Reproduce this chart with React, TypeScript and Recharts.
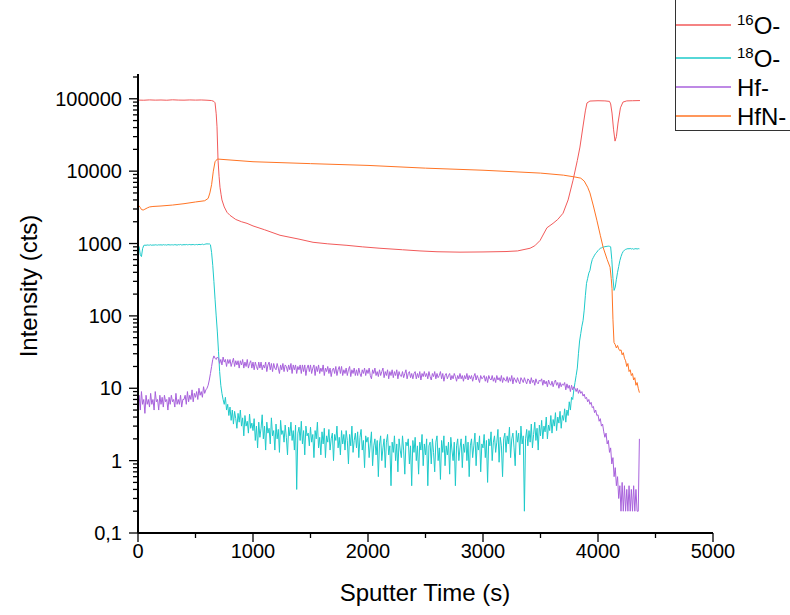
import { LineChart, Line, XAxis, YAxis, Label } from 'recharts';

// sputter times for the smooth traces (s)
const times16O = [0, 50, 100, 150, 200, 250, 300, 350, 400, 450, 500, 550, 600, 640, 660, 670, 680, 687, 696, 705, 713, 722, 730, 750, 774, 800, 850, 900, 948, 1000, 1100, 1235, 1400, 1522, 1650, 1817, 1950, 2104, 2300, 2452, 2600, 2800, 3000, 3200, 3300, 3409, 3450, 3496, 3556, 3609, 3650, 3696, 3740, 3783, 3820, 3843, 3870, 3890, 3904, 3930, 4000, 4060, 4100, 4110, 4122, 4135, 4148, 4160, 4174, 4195, 4217, 4250, 4300, 4365];
const values16O = [96000, 95500, 96500, 95800, 96200, 95500, 96800, 96000, 95700, 96400, 95900, 96300, 95500, 94500, 92000, 88000, 62000, 41000, 14200, 8500, 6000, 4800, 4000, 3200, 2700, 2450, 2150, 2000, 1900, 1750, 1550, 1300, 1150, 1040, 990, 944, 900, 860, 820, 790, 770, 760, 765, 775, 790, 860, 930, 1100, 1650, 1900, 2150, 2620, 4000, 7500, 14000, 21500, 42000, 68000, 87500, 93000, 94000, 93500, 92000, 85000, 63500, 38000, 26000, 30000, 46200, 75000, 90000, 93500, 94000, 94500];

const timesHfN = [0, 10, 20, 30, 45, 60, 80, 100, 130, 200, 300, 400, 500, 580, 610, 625, 640, 655, 670, 690, 1000, 1500, 2000, 2500, 3000, 3500, 3700, 3800, 3850, 3880, 3910, 3930, 3960, 3990, 4020, 4045, 4080, 4105, 4115, 4122, 4130, 4139, 4150, 4160, 4170, 4180, 4190, 4200, 4210, 4220, 4230, 4240, 4250, 4260, 4270, 4280, 4290, 4300, 4310, 4320, 4330, 4340, 4350, 4360];
const valuesHfN = [3200, 3300, 3150, 2950, 2900, 2980, 3100, 3200, 3250, 3300, 3400, 3550, 3750, 3900, 4200, 5000, 6500, 10000, 13500, 14700, 13500, 12700, 12000, 11000, 10300, 9400, 8800, 8300, 8000, 7300, 6000, 5000, 3300, 2100, 1300, 880, 600, 470, 330, 240, 90, 43, 40, 36, 39, 35, 33, 34, 29, 31, 26, 24, 20, 22, 17, 18, 15, 16, 13, 14, 11, 12, 10, 8.7];

// noisy traces, one reading every 10 s from 0 s
const sampleStep = 10;
const values18O = [
  950, 900, 700, 660, 850, 940, 950, 945, 955, 950,
  950, 960, 945, 955, 950, 960, 955, 950, 960, 955,
  960, 950, 965, 955, 960, 950, 965, 960, 955, 960,
  960, 955, 965, 960, 950, 965, 960, 970, 955, 960,
  965, 960, 970, 960, 965, 970, 960, 965, 970, 960,
  965, 970, 960, 975, 965, 970, 980, 965, 975, 985,
  990, 985, 990, 960, 750, 500, 300, 170, 100, 60,
  32, 17, 11, 8.5, 7, 6, 7.5, 5, 6, 4.2,
  5.5, 3.6, 5, 3.2, 4.8, 3.8, 2.8, 4.5, 3.4, 5,
  3, 3.9, 2.2, 4.2, 3, 3.5, 2.4, 4.4, 2.8, 3.3,
  2.6, 3.8, 1.9, 3, 1.5, 3.4, 2.1, 2.8, 4.3, 2,
  3, 1.4, 3.4, 2.4, 2.8, 1.7, 3.9, 2.2, 2.6, 1.4,
  3.2, 2, 2.7, 1.3, 3.6, 2.3, 2.6, 1.8, 3.1, 2.1,
  1.2, 2.9, 2.2, 3.4, 1.9, 2.6, 1.4, 3.1, 0.4, 2.4,
  2.9, 1.9, 3.5, 1.7, 2.6, 1.2, 3, 2.2, 2.4, 1.6,
  2.9, 1.8, 2.3, 1.1, 2.6, 2, 3.4, 1.5, 2.1, 1.2,
  2.5, 1.7, 2.8, 1.1, 2.2, 1.8, 2.7, 1.4, 2, 2.4,
  1, 2.3, 1.9, 3, 1.5, 2.1, 1.2, 2.6, 1.7, 2.3,
  1.4, 2.6, 1.9, 0.9, 2.3, 1.6, 3, 1.3, 1.9, 2.4,
  1.5, 2.5, 1.1, 2.1, 2.7, 1.4, 1.9, 0.8, 2.2, 1.8,
  2.1, 1.1, 1.7, 2.5, 0.85, 1.6, 2, 1.2, 1.9, 0.6,
  1.7, 2.2, 1, 1.5, 2, 0.8, 1.8, 2.3, 1.2, 1.6,
  0.45, 1.8, 1.3, 2.2, 1, 1.7, 0.7, 2, 1.4, 1.1,
  2.2, 1.4, 0.65, 1.8, 1.6, 2, 0.9, 1.6, 0.45, 1.9,
  1.3, 2.1, 1, 1.6, 0.65, 1.8, 1.4, 2.3, 0.85, 1.7,
  1.2, 2, 0.45, 1.6, 1.8, 0.9, 2, 1.3, 0.7, 1.8,
  2.2, 1, 1.5, 0.55, 1.9, 1.3, 2.2, 0.85, 1.6, 1.2,
  1.8, 0.65, 2.1, 1.4, 1, 1.8, 0.45, 1.6, 2, 1,
  1.5, 2, 0.8, 1.7, 1.3, 2.2, 1, 1.8, 0.6, 1.6,
  2, 1.1, 1.6, 2.4, 0.85, 1.8, 1.4, 2.2, 0.7, 1.7,
  1.5, 2.3, 1.1, 1.9, 0.5, 2, 1.6, 2.5, 1, 1.8,
  2.2, 1.3, 1.8, 2.7, 0.95, 2.1, 1.6, 0.6, 2, 2.4,
  1.3, 2.2, 1.7, 2.9, 1.1, 2, 2.4, 1.5, 0.85, 2.6,
  1.8, 2.4, 1.2, 3, 1.7, 2.2, 0.2, 2, 2.7, 1.6,
  2.6, 1.8, 3.2, 1.5, 2.3, 3.4, 1.9, 2.8, 1.4, 3.1,
  2.2, 3.6, 2, 3, 2.5, 4, 2, 3.1, 2.6, 4.2,
  2.4, 3.7, 3, 4.6, 2.6, 4, 3.3, 4.8, 2.8, 4.2,
  3.6, 5.2, 3.4, 5, 4.2, 6.5, 5, 7.5, 7, 9.5,
  12, 15, 19, 30, 45, 57, 72, 86, 120, 190,
  281, 330, 390, 425, 520, 600, 644, 690, 730, 760,
  800, 830, 859, 870, 885, 895, 905, 910, 915, 920,
  915, 900, 600, 330, 225, 250, 320, 400, 480, 580,
  660, 730, 780, 810, 830, 840, 850, 845, 855, 840,
  850, 835, 845, 850, 840, 850, 845,
];
const valuesHf = [
  6, 8, 5, 9, 6, 7, 4.5, 8, 6, 7,
  5.5, 8.5, 6, 7, 5, 9, 6.5, 7, 5, 8,
  6, 7.5, 5.5, 8, 6.5, 7, 5, 7.5, 6, 8,
  6.5, 7, 5.5, 8.5, 6, 7, 6, 8, 5.5, 7,
  7, 8, 6, 9, 6.5, 8, 7, 9.5, 6.5, 8.5,
  7.5, 9, 7, 10, 8, 9, 7.5, 10.5, 8.5, 9.5,
  10, 11, 13, 16, 20, 25, 28, 26, 25, 27,
  26, 22, 25, 21, 27, 23, 25, 20, 25, 22,
  25, 20, 23, 26, 20, 24, 21, 24, 19, 24,
  21, 25, 19, 23, 20, 25, 19, 22, 24, 19,
  23, 18, 23, 20, 18, 23, 19, 23, 18, 21,
  19, 23, 17, 21, 23, 18, 22, 17, 22, 19,
  18, 22, 19, 16, 21, 18, 22, 17, 21, 20,
  17, 21, 18, 22, 16, 21, 18, 21, 16, 20,
  18, 21, 16, 21, 17, 21, 15, 19, 21, 17,
  21, 16, 19, 21, 15, 20, 17, 21, 16, 19,
  17, 21, 15, 19, 17, 20, 16, 19, 14.5, 18,
  19, 16, 20, 15, 18, 20, 16, 20, 15, 18,
  16, 19, 15, 18, 20, 14.5, 18, 16, 19, 15,
  18, 15, 19, 16, 14.5, 18, 16, 19, 15, 18,
  16, 19, 15, 13.5, 18, 16, 19, 15, 17, 14.5,
  18, 15, 17, 19, 14, 17, 15, 18, 13.5, 17,
  15, 18, 14, 17, 15, 18, 13.5, 17, 15, 14.5,
  17, 14, 16, 18, 13.5, 16, 17, 14, 16, 13.5,
  16, 17, 13.5, 16, 14, 17, 13, 16, 14.5, 17,
  14.5, 16, 13.5, 17, 14.5, 13, 16, 14.5, 17, 13.5,
  16, 14, 15, 17, 13.5, 16, 12.5, 15, 16, 13.5,
  15, 16, 13, 15, 13.5, 16, 14.5, 12.5, 15, 13.5,
  16, 13.5, 15, 12.5, 15, 13.5, 16, 13, 15, 13.5,
  15, 12.5, 14.5, 16, 13, 15, 13.5, 12, 15, 13.5,
  14, 15, 12.5, 14.5, 12, 15, 13.5, 13, 15, 12.5,
  14, 12, 15, 13, 14, 12.5, 15, 12, 14, 13,
  12.5, 14.5, 12, 14, 12.5, 15, 11.5, 14, 13, 12,
  14, 12.5, 11.5, 14, 13, 12, 14, 12.5, 11.5, 13.5,
  13, 11.5, 14, 12, 13, 11, 13.5, 12, 11.5, 13,
  12.5, 13.5, 11, 13, 11.5, 12.5, 10.5, 13, 11.5, 11,
  12.5, 10.5, 12, 13, 11, 12, 10, 12, 10.5, 11.5,
  11, 12, 9.5, 11.5, 10, 11, 9, 11, 9.5, 10.5,
  10, 9, 10, 8.5, 9.5, 8.5, 9, 7.8, 8.3, 7.2,
  7.5, 6.5, 7, 6, 6.4, 5.4, 5.6, 4.6, 5, 4.2,
  4.3, 3.5, 3.8, 3, 3.2, 2.5, 2.1, 2.4, 1.7, 1.9,
  1.3, 1.5, 0.9, 1.1, 0.6, 0.8, 0.45, 0.6, 0.3, 0.45,
  0.2, 0.5, 0.2, 0.45, 0.2, 0.4, 0.2, 0.45, 0.2, 0.4,
  0.2, 0.45, 0.2, 0.4, 0.2, 0.2, 2,
];

const yMajorTicks = [0.1, 1, 10, 100, 1000, 10000, 100000];
const yTickLabels = ['0,1', '1', '10', '100', '1000', '10000', '100000'];
const xTicks = [0, 500, 1000, 1500, 2000, 2500, 3000, 3500, 4000, 4500, 5000];

const font = '"Liberation Sans", Arial, sans-serif';

const series = [
  { key: '16O', sup: '16', name: 'O-', color: '#f25a5a', data: times16O.map((t, i) => ({ t, v: values16O[i] })) },
  { key: '18O', sup: '18', name: 'O-', color: '#1ecaca', data: values18O.map((v, i) => ({ t: i * sampleStep, v })) },
  { key: 'Hf', sup: '', name: 'Hf-', color: '#a862dc', data: valuesHf.map((v, i) => ({ t: i * sampleStep, v })) },
  { key: 'HfN', sup: '', name: 'HfN-', color: '#ff7424', data: timesHfN.map((t, i) => ({ t, v: valuesHfN[i] })) },
];

// log ticks: 1..9 in every decade up to the top of the axis
const yTicks: number[] = [];
yMajorTicks.forEach((d) => {
  for (let m = 1; m <= 9; m++) {
    const v = Number((m * d).toPrecision(3));
    if (v <= 200000) yTicks.push(v);
  }
});

const YTick = ({ x, y, payload }: any) => {
  const idx = yMajorTicks.findIndex((m) => Math.abs(m - payload.value) / m < 1e-6);
  const major = idx >= 0;
  return (
    <g>
      <line x1={x} x2={x - (major ? 9 : 5)} y1={y} y2={y} stroke="#000" strokeWidth={1.3} />
      {major && (
        <text x={x - 16} y={y} dy="0.35em" textAnchor="end" fontSize={20} fontFamily={font} fill="#000">
          {yTickLabels[idx]}
        </text>
      )}
    </g>
  );
};

const XTick = ({ x, y, payload }: any) => {
  const major = payload.value % 1000 === 0;
  return (
    <g>
      <line x1={x} x2={x} y1={y} y2={y + (major ? 9 : 5)} stroke="#000" strokeWidth={1.3} />
      {major && (
        <text x={x} y={y + 25} textAnchor="middle" fontSize={20} fontFamily={font} fill="#000">
          {payload.value}
        </text>
      )}
    </g>
  );
};

const LegendBox = () => (
  <div style={{ position: 'absolute', left: 675, top: -1, width: 130, height: 132, border: '1.5px solid #333', boxSizing: 'border-box', background: '#fff' }}>
    <svg width={130} height={130} style={{ display: 'block' }}>
      {series.map((s, i) => {
        const ly = [25, 58, 87, 116][i];
        return (
          <g key={s.key}>
            <line x1={0} x2={55} y1={ly} y2={ly} stroke={s.color} strokeWidth={1.5} />
            <text x={61} y={ly + 9} fontFamily={font} fontSize={24} fill="#000">
              {s.sup && <tspan fontSize={15} dy={-9}>{s.sup}</tspan>}
              <tspan dy={s.sup ? 9 : 0}>{s.name}</tspan>
            </text>
          </g>
        );
      })}
    </svg>
  </div>
);

export default function App() {
  return (
    <div style={{ position: 'absolute', left: 0, top: 0, width: 790, height: 615, background: '#fff' }}>
      <LineChart width={790} height={615} margin={{ top: 74, right: 77, bottom: 0, left: 0 }}>
        <XAxis
          dataKey="t"
          type="number"
          domain={[0, 5000]}
          ticks={xTicks}
          interval={0}
          allowDataOverflow
          height={82}
          tickSize={0}
          tickMargin={0}
          tick={<XTick />}
          axisLine={{ stroke: '#000', strokeWidth: 2 }}
        >
          <Label
            content={() => (
              <text x={425} y={601} textAnchor="middle" fontSize={24} fontFamily={font} fill="#000">
                Sputter Time (s)
              </text>
            )}
          />
        </XAxis>
        <YAxis
          dataKey="v"
          scale="log"
          type="number"
          domain={[0.1, 220000]}
          ticks={yTicks}
          interval={0}
          allowDataOverflow
          width={138}
          tickSize={0}
          tickMargin={0}
          tick={<YTick />}
          axisLine={{ stroke: '#000', strokeWidth: 2 }}
        >
          <Label
            content={() => (
              <text x={37} y={286} transform="rotate(-90 37 286)" textAnchor="middle" fontSize={24} fontFamily={font} fill="#000">
                Intensity (cts)
              </text>
            )}
          />
        </YAxis>
        {series.map((s) => (
          <Line
            key={s.key}
            data={s.data}
            dataKey="v"
            type="linear"
            stroke={s.color}
            strokeWidth={1}
            dot={false}
            activeDot={false}
            isAnimationActive={false}
          />
        ))}
      </LineChart>
      <LegendBox />
    </div>
  );
}
